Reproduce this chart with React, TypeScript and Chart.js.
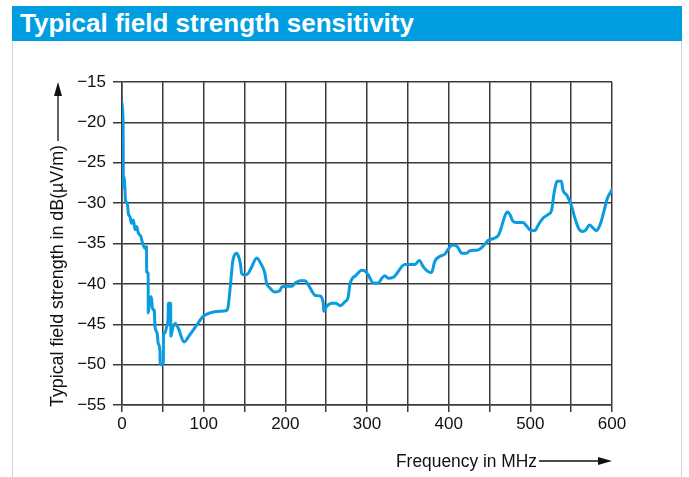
import React, { useEffect, useRef } from "react";
import { Chart, registerables } from "chart.js";

Chart.register(...registerables);

const chartTitle = "Typical field strength sensitivity";
const yAxisTitle = "Typical field strength in dB(\u00b5V/m)";
const xAxisTitle = "Frequency in MHz";

const freqMHz = [
  0, 1.0, 1.3, 1.5, 1.7, 2.4, 3.7, 4.2, 6.5, 7.8, 9.8, 11.5, 13.9, 16, 18, 20, 23, 25.3, 28, 30,
  30.2, 32, 32.2, 34, 36, 37.5, 39.5, 40.4, 43, 44.4, 46.5, 46.7, 48.6, 50.6, 50.8, 52.6, 54.7,
  56.5, 56.7, 59.6, 59.8, 62, 65, 69, 76, 83, 91.5, 99.6, 107.7, 120, 128, 130, 133, 135.5, 137,
  140.4, 142, 145, 146.5, 150.6, 154.6, 158.8, 165, 169, 175, 177, 181, 187, 193.5, 195.5, 201.7,
  208, 212, 218, 224, 228, 232, 236, 242.4, 246.5, 247, 250.6, 256.8, 262, 267, 273, 277, 279,
  287, 293.5, 297.5, 301.6, 307.8, 314, 318, 322, 326, 332, 346.5, 358.7, 364, 369, 375, 379,
  383, 389, 395.5, 401.6, 405.7, 410.6, 416, 422, 426, 436, 442.4, 448.5, 454.6, 460.8, 463.7,
  467.7, 471.8, 475, 478.4, 483, 491, 496, 500.4, 505.7, 509.7, 515.2, 522, 526, 529, 533, 538,
  540, 544.6, 550.6, 554.7, 559, 564, 568, 572.4, 577, 581, 585.3, 589.4, 594.3, 598.5, 600,
];

const fieldStrength = [
  -17.6, -19.0, -20.0, -23.0, -28.0, -26.7, -28.4, -29.8, -30.0, -31.3, -31.7, -32.5, -32.1,
  -33.3, -32.9, -33.7, -34.1, -35.0, -35.6, -35.4, -38.5, -38.7, -43.6, -42.0, -41.6, -43.2,
  -43.2, -45.3, -46.1, -47.4, -48.4, -49.8, -50.0, -49.8, -46.1, -46.1, -45.3, -44.1, -42.4,
  -42.4, -46.5, -45.5, -44.9, -45.5, -47.2, -46.3, -45.1, -44.0, -43.6, -43.4, -43.3, -42.8,
  -39.9, -37.3, -36.6, -36.2, -36.4, -37.5, -38.7, -38.9, -38.7, -37.9, -36.8, -37.3, -38.7,
  -39.9, -40.5, -41.0, -40.8, -40.4, -40.3, -40.3, -39.9, -39.6, -39.6, -40.1, -40.8, -41.4,
  -41.5, -42.4, -43.4, -42.8, -42.4, -42.4, -42.7, -42.2, -41.6, -40.1, -38.9, -38.3, -38.4,
  -38.9, -39.9, -39.9, -39.3, -39.0, -39.3, -39.2, -37.6, -37.6, -37.1, -37.9, -38.5, -38.6,
  -37.2, -36.6, -36.3, -35.4, -35.2, -35.4, -36.2, -36.2, -35.9, -35.8, -35.3, -34.6, -34.4,
  -34.0, -33.3, -31.9, -31.1, -31.4, -32.2, -32.4, -32.4, -32.9, -33.4, -33.4, -32.7, -31.9,
  -31.4, -30.9, -28.8, -27.3, -27.3, -28.4, -29.0, -30.4, -31.9, -33.1, -33.5, -33.3, -32.7,
  -33.1, -33.4, -32.7, -31.3, -29.4, -28.6, -28.3,
];

const xMin = 0;
const xMax = 600;
const xGridStep = 50;
const xLabelStep = 100;
const yMin = -55;
const yMax = -15;
const yStep = 5;

const LINE_BLUE = "#0a9be0";
const BAR_BLUE = "#009ee0";
const INK = "#111111";
const GRID = "#3a3a3a";
const FONT_FAMILY = '"Liberation Sans Narrow", "Liberation Sans", Arial, sans-serif';

function drawFitted(ctx: CanvasRenderingContext2D, text: string, width: number) {
  const natural = ctx.measureText(text).width;
  const s = width / natural;
  ctx.save();
  ctx.scale(s, 1);
  ctx.fillText(text, 0, 0);
  ctx.restore();
}

function drawArrow(ctx: CanvasRenderingContext2D, x0: number, x1: number) {
  const headLen = 14;
  const headHalf = 4;
  ctx.beginPath();
  ctx.moveTo(x0, 0);
  ctx.lineTo(x1 - headLen + 1, 0);
  ctx.lineWidth = 1.3;
  ctx.stroke();
  ctx.beginPath();
  ctx.moveTo(x1, 0);
  ctx.lineTo(x1 - headLen, -headHalf);
  ctx.lineTo(x1 - headLen, headHalf);
  ctx.closePath();
  ctx.fill();
}

const axisTitlesPlugin = {
  id: "axisTitlesWithArrows",
  afterDraw(chart: any) {
    const ctx: CanvasRenderingContext2D = chart.ctx;
    const { left, right, top, bottom } = chart.chartArea;
    ctx.save();
    ctx.fillStyle = INK;
    ctx.strokeStyle = INK;
    ctx.font = `18px ${FONT_FAMILY}`;
    ctx.textAlign = "left";
    ctx.textBaseline = "alphabetic";

    ctx.save();
    ctx.translate(right - 216, bottom + 62);
    drawFitted(ctx, xAxisTitle, 141);
    ctx.translate(0, -6);
    drawArrow(ctx, 143, 216);
    ctx.restore();

    ctx.save();
    ctx.translate(left - 59, bottom + 2);
    ctx.rotate(-Math.PI / 2);
    drawFitted(ctx, yAxisTitle, 262);
    ctx.translate(0, -5);
    drawArrow(ctx, 266, bottom + 2 - top);
    ctx.restore();

    ctx.restore();
  },
};

export default function App() {
  const canvasRef = useRef<HTMLCanvasElement>(null);

  useEffect(() => {
    const canvas = canvasRef.current;
    if (!canvas) return;
    const points = freqMHz.map((f, i) => ({ x: f, y: fieldStrength[i] }));
    const chart = new Chart(canvas, {
      type: "line",
      data: {
        datasets: [
          {
            data: points,
            borderColor: LINE_BLUE,
            borderWidth: 3,
            pointRadius: 0,
            fill: false,
            cubicInterpolationMode: "monotone",
            borderJoinStyle: "round",
            borderCapStyle: "round",
          },
        ],
      },
      options: {
        responsive: false,
        animation: false,
        events: [],
        layout: { padding: { left: 0, top: 82, right: 77, bottom: 0 } },
        plugins: {
          legend: { display: false },
          tooltip: { enabled: false },
          title: { display: false },
        },
        scales: {
          x: {
            type: "linear",
            min: xMin,
            max: xMax,
            afterFit: (scale: any) => {
              scale.height = 72;
            },
            ticks: {
              stepSize: xGridStep,
              autoSkip: false,
              maxRotation: 0,
              padding: 2,
              color: INK,
              font: { family: FONT_FAMILY, size: 17 },
              callback: (v: any) => (Number(v) % xLabelStep === 0 ? String(v) : ""),
            },
            grid: {
              color: GRID,
              lineWidth: 1.5,
              tickLength: 7,
              drawTicks: true,
            },
            border: { display: true, color: GRID, width: 1.5 },
          },
          y: {
            type: "linear",
            min: yMin,
            max: yMax,
            afterFit: (scale: any) => {
              scale.width = 122;
            },
            ticks: {
              stepSize: yStep,
              padding: 7,
              color: INK,
              font: { family: FONT_FAMILY, size: 17 },
              callback: (v: any) => String(v).replace("-", "\u2212"),
            },
            grid: {
              color: GRID,
              lineWidth: 1.5,
              tickLength: 9,
              drawTicks: true,
            },
            border: { display: true, color: GRID, width: 1.5 },
          },
        },
      },
      plugins: [axisTitlesPlugin],
    } as any);
    return () => chart.destroy();
  }, []);

  return (
    <div
      style={{
        position: "fixed",
        left: 0,
        top: 0,
        width: 689,
        height: 477,
        background: "#fff",
        overflow: "hidden",
      }}
    >
      <div
        style={{
          position: "absolute",
          left: 12,
          top: 6,
          width: 670,
          height: 35,
          background: BAR_BLUE,
        }}
      />
      <div
        style={{
          position: "absolute",
          left: 12,
          top: 41,
          width: 1,
          height: 436,
          background: "#d4d4d4",
        }}
      />
      <div
        style={{
          position: "absolute",
          left: 681,
          top: 41,
          width: 1,
          height: 436,
          background: "#d4d4d4",
        }}
      />
      <div
        style={{
          position: "absolute",
          left: 20,
          top: 10,
          color: "#fff",
          fontFamily: '"Liberation Sans", Arial, sans-serif',
          fontWeight: 700,
          fontSize: 26,
          lineHeight: "26px",
          whiteSpace: "nowrap",
          transform: "scaleX(1.0)",
          transformOrigin: "left top",
        }}
      >
        {chartTitle}
      </div>
      <canvas
        ref={canvasRef}
        width={689}
        height={477}
        style={{ position: "absolute", left: 0, top: 0, width: 689, height: 477 }}
      />
    </div>
  );
}
